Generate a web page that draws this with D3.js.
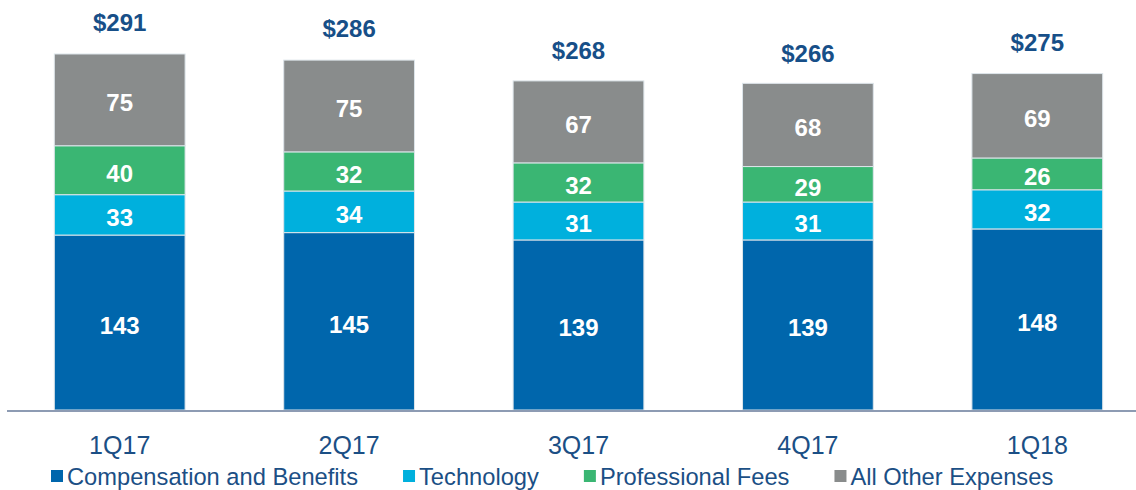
<!DOCTYPE html>
<html>
<head>
<meta charset="utf-8">
<script src="https://cdn.jsdelivr.net/npm/d3@7/dist/d3.min.js"></script>
<style>
  body { margin: 0; background: #fff; }
  text { font-family: "Liberation Sans", Arial, sans-serif; }
</style>
</head>
<body>
<div id="chart"></div>
<script>
var quarters = ["1Q17", "2Q17", "3Q17", "4Q17", "1Q18"];
var compensation = [143, 145, 139, 139, 148];
var technology = [33, 34, 31, 31, 32];
var professionalFees = [40, 32, 32, 29, 26];
var otherExpenses = [75, 75, 67, 68, 69];
var totals = [291, 286, 268, 266, 275];
var seriesNames = ["Compensation and Benefits", "Technology", "Professional Fees", "All Other Expenses"];
var seriesColors = ["#0066ac", "#00b0dd", "#3ab673", "#898c8c"];

var width = 1136, height = 490;

var rows = quarters.map(function(q, i) {
    return { q: q, c: compensation[i], t: technology[i], p: professionalFees[i], o: otherExpenses[i] };
});
var keys = ["c", "t", "p", "o"];

var svg = d3.select("#chart").append("svg")
            .attr("width", width)
            .attr("height", height);

var x = d3.scaleBand()
          .domain(quarters)
          .range([5, 1152])
          .paddingInner(0.43)
          .paddingOuter(0.215);

var y = d3.scaleLinear()
          .domain([0, 300])
          .range([410, 410 - 300 * 1.2234]);

var stack = d3.stack().keys(keys);
var layers = stack(rows);

var layer = svg.append("g").selectAll("g")
               .data(layers)
               .enter().append("g")
               .attr("fill", function(d, i) { return seriesColors[i]; });

layer.selectAll("rect")
     .data(function(d) { return d; })
     .enter().append("rect")
     .attr("x", function(d) { return x(d.data.q); })
     .attr("y", function(d) { return y(d[1]); })
     .attr("width", x.bandwidth())
     .attr("height", function(d) { return y(d[0]) - y(d[1]); })
     .attr("stroke", "#dde5ea")
     .attr("stroke-width", 1);

layer.selectAll("text")
     .data(function(d) { return d; })
     .enter().append("text")
     .attr("x", function(d) { return x(d.data.q) + x.bandwidth() / 2; })
     .attr("y", function(d) { return (y(d[0]) + y(d[1])) / 2 + 11.5; })
     .attr("text-anchor", "middle")
     .attr("fill", "#fff")
     .attr("font-weight", "bold")
     .attr("font-size", "24px")
     .text(function(d) { return d[1] - d[0]; });

// totals above bars
svg.append("g").selectAll("text")
   .data(quarters)
   .enter().append("text")
   .attr("x", function(d) { return x(d) + x.bandwidth() / 2; })
   .attr("y", function(d, i) { return y(totals[i]) - 23; })
   .attr("text-anchor", "middle")
   .attr("fill", "#174f88")
   .attr("font-weight", "bold")
   .attr("font-size", "24px")
   .text(function(d, i) { return "$" + totals[i]; });

// baseline
svg.append("line")
   .attr("x1", 7).attr("x2", width)
   .attr("y1", 411).attr("y2", 411)
   .attr("stroke", "#8d9bb3")
   .attr("stroke-width", 2);

var xAxis = svg.append("g")
               .attr("transform", "translate(0,411)")
               .call(d3.axisBottom(x).tickSize(0).tickPadding(0));
xAxis.select(".domain").remove();
xAxis.selectAll("text")
     .attr("dy", null)
     .attr("y", 43)
     .attr("fill", "#1b4f85")
     .attr("font-size", "25px")
     .attr("font-family", "'Liberation Sans', Arial, sans-serif");

// legend
var legend = svg.append("g").attr("transform", "translate(51,0)");
var lx = 0;
seriesNames.forEach(function(name, i) {
    var item = legend.append("g").attr("transform", "translate(" + lx + ",0)");
    item.append("rect")
        .attr("x", 0).attr("y", 470)
        .attr("width", 12).attr("height", 12)
        .attr("fill", seriesColors[i]);
    var t = item.append("text")
        .attr("x", 16).attr("y", 485)
        .attr("fill", "#1b4f85")
        .attr("font-size", "23.7px")
        .text(name);
    lx += 16 + t.node().getComputedTextLength() + 45;
});
</script>
</body>
</html>
